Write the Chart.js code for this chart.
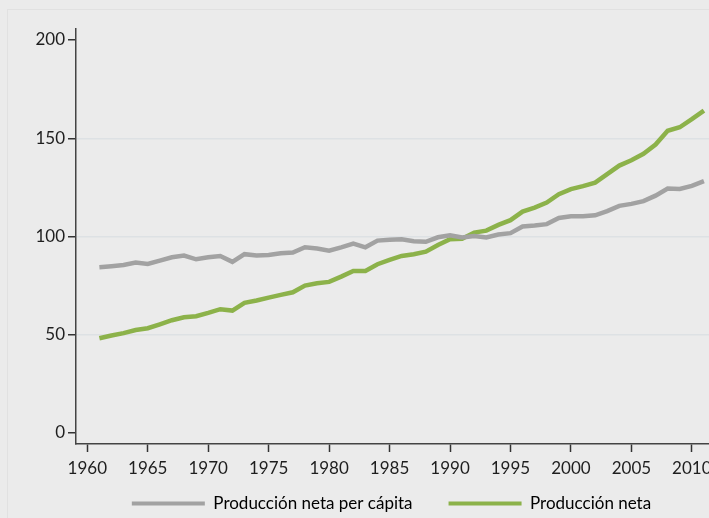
<!DOCTYPE html>
<html>
<head>
<meta charset="utf-8">
<script src="https://cdn.jsdelivr.net/npm/chart.js@4"></script>
<style>
  html, body { margin: 0; padding: 0; background: #ebebeb; overflow: hidden; }
  #wrap { width: 783px; height: 547px; }
</style>
</head>
<body>
<div id="wrap"><canvas id="prodChart" width="783" height="547"></canvas></div>
<script>
// 年 (1961-2011)
const years = [
  1961, 1962, 1963, 1964, 1965, 1966, 1967, 1968, 1969, 1970,
  1971, 1972, 1973, 1974, 1975, 1976, 1977, 1978, 1979, 1980,
  1981, 1982, 1983, 1984, 1985, 1986, 1987, 1988, 1989, 1990,
  1991, 1992, 1993, 1994, 1995, 1996, 1997, 1998, 1999, 2000,
  2001, 2002, 2003, 2004, 2005, 2006, 2007, 2008, 2009, 2010, 2011
];

// Producción neta per cápita
const perCapita = [
  84.4, 84.9, 85.5, 86.7, 86.0, 87.7, 89.4, 90.3, 88.4, 89.4,
  90.1, 87.1, 91.0, 90.3, 90.6, 91.5, 91.8, 94.5, 93.9, 92.8,
  94.5, 96.4, 94.5, 97.9, 98.3, 98.6, 97.6, 97.3, 99.6, 100.6,
  99.5, 100.3, 99.5, 101.0, 101.7, 105.1, 105.6, 106.3, 109.4, 110.3,
  110.3, 110.8, 112.9, 115.6, 116.6, 118.0, 120.8, 124.4, 124.2, 125.8, 128.2
];

// Producción neta
const netProduction = [
  48.2, 49.6, 50.8, 52.4, 53.3, 55.3, 57.4, 58.9, 59.4, 61.1,
  63.0, 62.3, 66.2, 67.4, 68.9, 70.3, 71.6, 75.0, 76.2, 76.9,
  79.6, 82.5, 82.5, 85.9, 88.1, 90.1, 91.0, 92.3, 95.7, 98.6,
  98.9, 102.0, 103.0, 105.9, 108.3, 112.7, 114.7, 117.3, 121.5, 124.1,
  125.6, 127.4, 131.7, 136.1, 138.8, 142.1, 146.8, 153.8, 155.6, 159.7, 164.1
];

const xTicks = [1960, 1965, 1970, 1975, 1980, 1985, 1990, 1995, 2000, 2005, 2010];
const yTicks = [0, 50, 100, 150, 200];
const seriesLabels = ['Producción neta per cápita', 'Producción neta'];
const colors = ['#a2a2a2', '#8cb24a'];

function toPoints(values) {
    return values.map((v, i) => ({ x: years[i], y: v }));
}

// 枠線 (上と左だけ見える)
const framePlugin = {
    id: 'frame',
    beforeDraw(chart) {
        const ctx = chart.ctx;
        ctx.save();
        ctx.strokeStyle = '#e1e1e1';
        ctx.lineWidth = 1;
        ctx.strokeRect(7.5, 9.5, 900, 600);
        ctx.restore();
    }
};

// 凡例を少し上に寄せる (項目間の余白が大きいため)
const legendShift = {
    id: 'legendShift',
    afterLayout(chart) {
        const lg = chart.legend;
        if (!lg) return;
        const shift = lg.top - 459;
        lg.top -= shift;
        lg.bottom -= shift;
    }
};

Chart.defaults.font.family = 'Lato';
Chart.defaults.font.size = 17;
Chart.defaults.color = '#1e1e1e';

const context = document.getElementById('prodChart').getContext('2d');
new Chart(context, {
    type: 'line',
    data: {
        datasets: [perCapita, netProduction].map((vals, index) => ({
            label: seriesLabels[index],
            data: toPoints(vals),
            borderColor: colors[index],
            backgroundColor: colors[index],
            borderWidth: 4.5,
            tension: 0,
            fill: false,
            pointRadius: 0,
            pointHoverRadius: 0
        }))
    },
    options: {
        responsive: false,
        animation: false,
        layout: { padding: { top: 29, left: 0, right: 0, bottom: 0 } },
        plugins: {
            tooltip: { enabled: false },
            legend: {
                position: 'bottom',
                labels: {
                    boxWidth: 73,
                    boxHeight: 4,
                    padding: 36,
                    color: '#1e1e1e',
                    generateLabels(chart) {
                        return chart.data.datasets.map((ds, i) => ({
                            text: ds.label,
                            fillStyle: ds.borderColor,
                            strokeStyle: ds.borderColor,
                            lineWidth: 0,
                            hidden: false,
                            datasetIndex: i
                        }));
                    }
                }
            }
        },
        scales: {
            x: {
                type: 'linear',
                min: 1959.065,
                max: 2017.54,
                afterBuildTicks(scale) {
                    scale.ticks = xTicks.map(v => ({ value: v }));
                },
                afterFit(scale) { scale.height = 40; },
                ticks: {
                    maxRotation: 0,
                    autoSkip: false,
                    padding: 6,
                    color: '#1e1e1e',
                    callback: v => String(v)
                },
                grid: {
                    drawOnChartArea: false,
                    drawTicks: true,
                    tickLength: 8,
                    tickColor: '#333',
                    tickWidth: 1.5
                },
                border: { color: '#444', width: 1.5 }
            },
            y: {
                min: -5.6,
                max: 205.6,
                afterBuildTicks(scale) {
                    scale.ticks = yTicks.map(v => ({ value: v }));
                },
                afterFit(scale) { scale.width = 76; },
                ticks: { padding: 3, color: '#1e1e1e' },
                grid: {
                    color: ctx => (ctx.tick && (ctx.tick.value === 0 || ctx.tick.value === 200)) ? 'rgba(0,0,0,0)' : '#dde1e4',
                    lineWidth: 1.5,
                    tickLength: 8,
                    tickColor: '#333',
                    tickWidth: 1.5
                },
                border: { color: '#444', width: 1.5 }
            }
        }
    },
    plugins: [framePlugin, legendShift]
});
</script>
</body>
</html>
